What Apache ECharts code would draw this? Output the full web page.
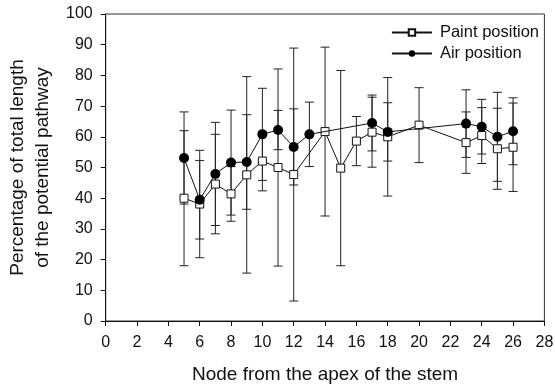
<!DOCTYPE html>
<html>
<head>
<meta charset="utf-8">
<script src="https://cdn.jsdelivr.net/npm/echarts@6/dist/echarts.min.js"></script>
<style>html,body{margin:0;padding:0;background:#fff}#c{width:555px;height:387px}</style>
</head>
<body>
<div id="c"></div>
<script>
const paintX = [5, 6, 7, 8, 9, 10, 11, 12, 14, 15, 16, 17, 18, 20, 23, 24, 25, 26];
const paintY = [40.0, 38.1, 44.6, 41.4, 47.6, 52.1, 50.0, 47.7, 61.7, 49.8, 58.6, 61.5, 60.0, 63.8, 58.1, 60.4, 56.1, 56.6];
const paintErr = [22.0, 17.5, 16.2, 8.9, 32.0, 9.7, 32.1, 41.2, 27.5, 31.8, 8.0, 11.4, 19.3, 12.2, 10.0, 9.1, 13.2, 14.4];

const airX = [5, 6, 7, 8, 9, 10, 11, 12, 13, 17, 18, 23, 24, 25, 26];
const airY = [53.1, 39.5, 47.9, 51.6, 51.8, 60.8, 62.2, 56.7, 60.8, 64.5, 61.6, 64.3, 63.3, 60.0, 61.8];
const airErr = [15.0, 12.8, 16.8, 17.1, 15.4, 15.0, 6.4, 12.4, 10.5, 9.1, 9.5, 11.0, 8.9, 14.5, 10.9];

const xTicks = {min: 0, max: 28, interval: 2};
const yTicks = {min: 0, max: 100, interval: 10};

const seriesNames = ['Paint position', 'Air position'];
const xTitle = 'Node from the apex of the stem';
const yTitle = 'Percentage of total length\nof the potential pathway';

const pts = (xs, ys) => xs.map((x, i) => [x, ys[i]]);
const errs = (xs, ys, es) => xs.map((x, i) => [x, ys[i] - es[i], ys[i] + es[i]]);

function errRender(params, api) {
  const x = api.value(0);
  const lo = api.coord([x, api.value(1)]);
  const hi = api.coord([x, api.value(2)]);
  const hw = 4.5;
  const st = {stroke: '#222', lineWidth: 1};
  return {
    type: 'group',
    children: [
      {type: 'line', shape: {x1: lo[0], y1: lo[1], x2: hi[0], y2: hi[1]}, style: st},
      {type: 'line', shape: {x1: lo[0] - hw, y1: lo[1], x2: lo[0] + hw, y2: lo[1]}, style: st},
      {type: 'line', shape: {x1: hi[0] - hw, y1: hi[1], x2: hi[0] + hw, y2: hi[1]}, style: st}
    ]
  };
}

const font = 'Liberation Sans, Arial, sans-serif';
const chart = echarts.init(document.getElementById('c'), null, {renderer: 'canvas'});
chart.setOption({
  animation: false,
  backgroundColor: '#fff',
  grid: {left: 105.7, right: 10.6, top: 14, bottom: 66, containLabel: false, outerBoundsMode: 'none',
         show: true, borderColor: '#333', borderWidth: 1, backgroundColor: 'transparent'},
  legend: {
    data: seriesNames,
    orient: 'vertical',
    right: 11,
    top: 19,
    itemWidth: 40,
    itemHeight: 8,
    itemGap: 4,
    textStyle: {fontFamily: font, fontSize: 16.5, color: '#111', padding: [0, 0, 0, 3]}
  },
  xAxis: {
    type: 'value',
    min: xTicks.min, max: xTicks.max, interval: xTicks.interval,
    name: xTitle, nameLocation: 'middle', nameGap: 44,
    nameTextStyle: {fontFamily: font, fontSize: 19, color: '#111'},
    axisLine: {onZero: false, lineStyle: {color: '#111'}},
    axisTick: {show: true, inside: false, length: 5, lineStyle: {color: '#111'}},
    axisLabel: {fontFamily: font, fontSize: 16, color: '#111', margin: 14},
    splitLine: {show: false}
  },
  yAxis: {
    type: 'value',
    min: yTicks.min, max: yTicks.max, interval: yTicks.interval,
    name: yTitle, nameLocation: 'middle', nameGap: 44, nameRotate: 90,
    nameTextStyle: {fontFamily: font, fontSize: 19, color: '#111', lineHeight: 25},
    axisLine: {onZero: false, lineStyle: {color: '#111'}},
    axisTick: {show: true, inside: false, length: 5, lineStyle: {color: '#111'}},
    axisLabel: {fontFamily: font, fontSize: 16, color: '#111', margin: 13},
    splitLine: {show: false}
  },
  series: [
    {type: 'custom', name: 'paintErr', renderItem: errRender, data: errs(paintX, paintY, paintErr), z: 1, silent: true},
    {type: 'custom', name: 'airErr', renderItem: errRender, data: errs(airX, airY, airErr), z: 1, silent: true},
    {
      type: 'line', name: seriesNames[0], data: pts(paintX, paintY), z: 3,
      symbol: 'rect', symbolSize: 8,
      lineStyle: {color: '#111', width: 1},
      itemStyle: {color: '#fff', borderColor: '#111', borderWidth: 1}
    },
    {
      type: 'line', name: seriesNames[1], data: pts(airX, airY), z: 4,
      symbol: 'circle', symbolSize: 10,
      lineStyle: {color: '#111', width: 1},
      itemStyle: {color: '#000', borderColor: '#000', borderWidth: 0}
    }
  ]
});
</script>
</body>
</html>
